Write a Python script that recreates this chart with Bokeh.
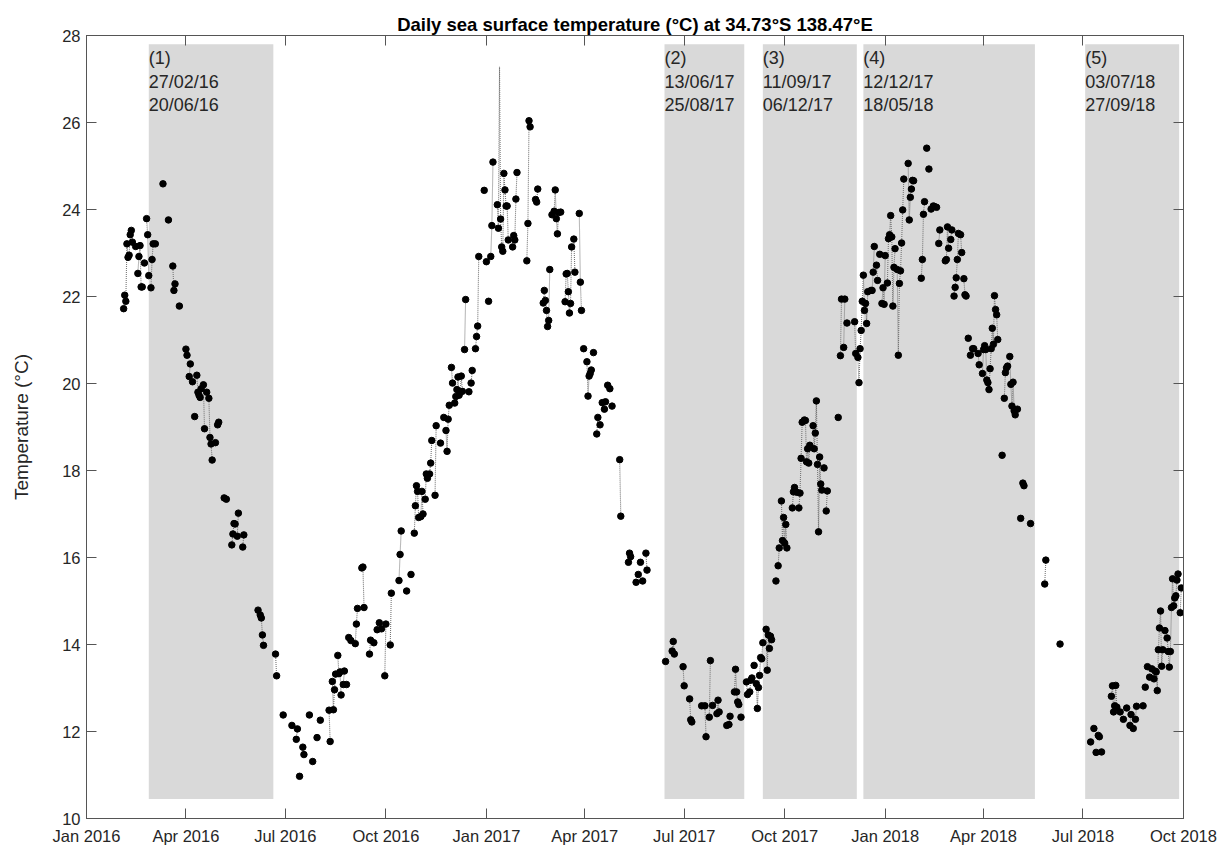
import numpy as np
import pandas as pd
from bokeh.plotting import figure
from bokeh.models import (Range1d, FixedTicker, DatetimeAxis, LinearAxis,
                          DatetimeTickFormatter, CustomJSTickFormatter, ColumnDataSource)
from bokeh.embed import file_html
from bokeh.resources import INLINE
from bokeh.core.properties import value

# ---------------- data ----------------
series_start = "2016-01-01"   # day 0 of the day counts below

days_a = [34,35,36,37,38,39,40,41,42,45,47,48,49,50,51,53,55,56,57,59,60,61,63,70,75,79,80,81,85,
          91,92,94,95,97,99,101,102,103,104,105,107,108,110,112,113,114,115,118,120,121,126,128,
          133,134,135,136,138,139,143,144]
temps_a = [21.72,22.03,21.89,23.21,22.90,22.95,23.42,23.52,23.25,23.15,22.53,22.92,23.17,22.22,22.22,
           22.77,23.79,23.42,22.48,22.20,22.85,23.21,23.21,24.59,23.76,22.70,22.14,22.29,21.78,
           20.79,20.65,20.16,20.45,20.04,19.24,20.19,19.80,19.73,19.68,19.88,19.97,18.96,19.80,19.66,
           18.76,18.61,18.24,18.64,19.05,19.11,17.37,17.34,16.29,16.54,16.78,16.77,16.49,17.02,16.24,16.52]

days_b = [157,159,160,161,162,173,174,180,188,192,193,195,198,199,204,207,211,214,222,223,
          225,226,227,228,230,231,232,233,235,236,238,240,242,246,247,248,252,253,254,259,
          260,263,266,268,270,273,274,278,279,286,287,288,293,297,300,301,302,303,304,306,
          307,308,310,311,312,314,315,316,319,320,324,327,329,330,331,332,334,335,337,338,
          339,340,341,342,343,344,346,347]
temps_b = [14.79,14.68,14.61,14.22,13.98,13.78,13.28,12.38,12.14,11.82,12.06,10.97,11.64,11.47,12.38,
           11.31,11.86,12.26,12.49,11.77,13.15,12.50,12.96,13.32,13.75,13.33,13.37,12.84,13.08,13.39,
           13.08,14.16,14.09,14.02,14.47,14.83,15.76,15.78,14.85,13.78,14.10,14.04,14.34,14.50,14.36,
           13.28,14.47,13.99,15.18,15.47,16.07,16.61,15.23,15.61,16.56,17.19,17.65,17.52,16.92,16.94,
           17.52,17.00,17.34,17.92,17.82,17.92,18.17,18.69,17.43,19.03,18.63,19.22,18.92,18.44,19.18,
           19.50,20.37,20.01,19.55,19.70,19.86,20.15,19.73,19.80,20.17,19.82,20.78,21.93]

days_c = [350,352,353,356,357,358,359,364,366,368,370,371,372,376,377,379,380,381,382,383,
          384,385,386,390,391,392,393,394,403,404,405,406,411,412,413,418,419,420,421,422,
          423,424,426,428,429,430,431,432,434,438,439,440,441,442,443,444,446,447,451,452,
          453,455,458,459,460,461,462,464,467,468,470,472,474,475,477,479,481,488,489,496,
          497,498,503,505,507,509,512,513]
temps_c = [19.81,20.01,20.30,20.80,21.08,21.32,22.92,24.44,22.80,21.89,22.92,23.63,25.09,24.11,23.57,
           23.78,23.14,23.04,24.83,24.45,24.08,24.08,23.30,23.14,23.40,23.30,24.24,24.85,22.82,23.68,
           26.04,25.90,24.23,24.17,24.47,21.85,22.14,21.91,21.68,21.31,21.45,22.62,23.88,23.96,24.45,
           23.79,23.44,23.93,23.94,21.88,22.52,22.53,22.11,21.62,21.84,23.14,23.32,22.56,23.91,22.33,
           21.68,20.80,20.50,19.71,20.17,20.23,20.31,20.71,18.84,19.22,19.05,19.56,19.41,19.58,19.96,
           19.88,19.48,18.25,16.95,15.89,16.10,16.02,15.43,15.61,15.89,15.46,16.10,15.71]

# a single day whose value only shows as the dotted trace (no marker)
spike_days = [378]
spike_temps = [27.28]

days_d = [530,536,537,538,546,547,552,553,554,563,566,567,570,571,573,577,578,579,586,588,
          589,593,594,595,596,597,599,604,605,607,608,609,611,613,614,615,616,617,618,619,
          622,623,624,625,626,627,631,633,634,636,637,638,639,640,641,646,647,648,650,652,
          653,654,655,657,658,659,660,661,662,665,666,667,668,669,670,671,672,673,675,677,
          678,688]
temps_d = [13.61,13.85,14.07,13.78,13.49,13.05,12.75,12.27,12.22,12.59,12.59,11.88,12.33,13.63,12.60,
           12.41,12.72,12.45,12.14,12.16,12.35,12.91,13.43,12.91,12.68,12.62,12.33,13.14,12.85,12.91,
           13.18,13.23,13.52,13.10,12.53,13.01,13.29,13.70,13.67,14.04,14.35,13.41,14.22,13.91,14.19,
           14.11,15.46,15.81,16.22,17.30,16.39,16.92,16.33,16.76,16.22,17.14,17.51,17.61,17.50,17.14,
           17.48,18.28,19.11,19.16,19.15,18.20,18.50,18.17,18.58,19.03,18.50,18.86,19.60,18.14,16.59,
           18.31,17.69,17.55,18.06,17.07,17.53,19.22]

days_e = [690,691,693,694,696,703,704,706,707,708,709,710,711,712,713,714,715,718,719,720,
          721,723,724,726,728,729,730,731,733,734,735,736,737,738,739,740,742,743,744,745,
          746,747,748,752,753,754,755,756,757,764,765,766,767,769,771,773,775,776,778,780,
          781,786,787,788,789,791,792,794,795,796,797,798,800,801,803,804,805,807,809,811,
          812,816,817,820,821,822,823,824,825,826,827,828,829,830,831,832,833,834,838,840,
          841,842,843,845,846,847,848,849,850,852,855,857,858,864,877,878,891]
temps_e = [20.64,21.94,20.83,21.94,21.39,21.42,20.69,20.60,20.02,20.80,21.22,21.89,22.49,21.68,21.84,
           21.38,22.11,22.14,22.14,22.56,23.15,22.72,22.37,22.97,21.84,22.20,21.82,22.94,22.31,23.33,
           23.42,23.86,23.37,21.78,22.67,23.10,22.62,20.65,22.30,22.59,23.23,23.99,24.70,25.06,23.76,
           24.28,24.47,24.67,24.66,22.42,22.85,23.89,24.18,25.41,24.93,24.01,24.08,24.07,24.05,23.22,
           23.53,22.82,22.85,23.60,23.11,23.31,23.53,22.01,22.21,22.43,22.85,23.45,23.42,23.01,22.41,
           22.04,22.01,21.04,20.65,20.80,20.80,20.69,20.43,20.23,20.78,20.87,20.78,20.08,20.02,19.86,
           20.34,20.80,21.27,20.90,22.02,21.70,21.58,21.01,18.35,19.66,20.25,20.36,20.40,20.62,19.98,
           19.48,20.03,19.37,19.28,19.41,16.90,17.71,17.65,16.78,15.39,15.94,14.01]

days_f = [919,922,924,926,927,929,938,939,940,941,942,943,946,949,952,955,956,958,960,961,
          967,969,971,973,975,977,978,979,980,981,982,983,984,985,987,989,990,991,992,993,
          994,995,996,997,998,999,1001,1002]
temps_f = [11.76,12.07,11.52,11.91,11.88,11.53,12.81,13.05,12.45,12.59,13.06,12.56,12.45,12.28,12.54,
           12.14,12.39,12.07,12.28,12.58,12.59,13.02,13.49,13.25,13.44,13.21,13.39,13.37,12.94,13.88,
           14.38,14.77,13.50,13.88,14.32,14.15,13.84,13.48,13.84,14.85,15.51,14.89,15.07,15.12,15.48,
           15.62,14.73,15.30]

period_names = ["(1)", "(2)", "(3)", "(4)", "(5)"]
period_start = ["2016-02-27", "2017-06-13", "2017-09-11", "2017-12-12", "2018-07-03"]
period_end = ["2016-06-20", "2017-08-25", "2017-12-06", "2018-05-18", "2018-09-27"]

x_tick_labels = ["Jan 2016", "Apr 2016", "Jul 2016", "Oct 2016", "Jan 2017", "Apr 2017",
                 "Jul 2017", "Oct 2017", "Jan 2018", "Apr 2018", "Jul 2018", "Oct 2018"]
y_ticks = [10, 12, 14, 16, 18, 20, 22, 24, 26, 28]

title_text = "Daily sea surface temperature (\u00b0C) at 34.73\u00b0S 138.47\u00b0E"
y_label = "Temperature (\u00b0C)"

# ---------------- build ----------------
t0 = pd.Timestamp(series_start)
obs_days = np.array(days_a + days_b + days_c + days_d + days_e + days_f)
obs_temps = np.array(temps_a + temps_b + temps_c + temps_d + temps_e + temps_f, dtype=float)

full_days = np.arange(obs_days.min(), obs_days.max() + 1)
trace = pd.Series(np.nan, index=full_days)
trace.loc[obs_days] = obs_temps
trace.loc[spike_days] = spike_temps

line_src = ColumnDataSource(dict(
    x=(t0 + pd.to_timedelta(full_days, unit="D")).to_numpy(),
    y=trace.to_numpy()))
pt_src = ColumnDataSource(dict(
    x=(t0 + pd.to_timedelta(obs_days, unit="D")).to_numpy(),
    y=obs_temps))

ps = pd.to_datetime(period_start)
pe = pd.to_datetime(period_end)
shade_src = ColumnDataSource(dict(left=ps.to_numpy(), right=pe.to_numpy(),
                                  bottom=[10.45] * len(ps), top=[27.8] * len(ps)))
label_src = ColumnDataSource(dict(
    x=ps.to_numpy(), y=[27.71] * len(ps),
    text=[f"{n}\n{a.strftime('%d/%m/%y')}\n{b.strftime('%d/%m/%y')}"
          for n, a, b in zip(period_names, ps, pe)]))

x_ticks = [pd.to_datetime(s, format="%b %Y").value // 10**6 for s in x_tick_labels]
x_start = pd.to_datetime(x_tick_labels[0], format="%b %Y").to_pydatetime()
x_end = pd.to_datetime(x_tick_labels[-1], format="%b %Y").to_pydatetime()

FONT = "Liberation Sans"
AX = "#555555"
TXT = "#262626"

p = figure(width=1217, height=847, x_axis_type="datetime",
           x_range=Range1d(x_start, x_end), y_range=Range1d(y_ticks[0], y_ticks[-1]),
           output_backend="svg", toolbar_location=None,
           min_border_left=86, min_border_right=34, min_border_top=35, min_border_bottom=26,
           background_fill_color="white", border_fill_color="white")
p.grid.visible = False
p.outline_line_color = AX
p.outline_line_width = 1

p.title.text = title_text
p.title.align = "center"
p.title.text_font = FONT
p.title.text_font_size = "18.5px"
p.title.text_font_style = "bold"
p.title.text_color = "black"
p.title.standoff = 1

xa = p.xaxis[0]
xa.ticker = FixedTicker(ticks=x_ticks)
fmt = "%b %Y"
xa.formatter = DatetimeTickFormatter(milliseconds=fmt, seconds=fmt, minsec=fmt, minutes=fmt,
                                     hourmin=fmt, hours=fmt, days=fmt, months=fmt, years=fmt)
ya = p.yaxis[0]
ya.ticker = FixedTicker(ticks=y_ticks)
ya.axis_label = y_label
ya.axis_label_text_font = FONT
ya.axis_label_text_font_size = "19px"
ya.axis_label_text_font_style = "normal"
ya.axis_label_text_color = TXT
ya.axis_label_standoff = 27

for ax in (xa, ya):
    ax.major_tick_in = 10
    ax.major_tick_out = 0
    ax.minor_tick_line_color = None
    ax.axis_line_color = AX
    ax.major_tick_line_color = AX
    ax.major_label_text_font = FONT
    ax.major_label_text_font_size = "16.5px"
    ax.major_label_text_color = TXT
    ax.major_label_standoff = 6
xa.major_label_standoff = 8

blank = CustomJSTickFormatter(code="return ''")
top_ax = DatetimeAxis(ticker=FixedTicker(ticks=x_ticks), formatter=blank)
right_ax = LinearAxis(ticker=FixedTicker(ticks=y_ticks), formatter=blank)
for ax in (top_ax, right_ax):
    ax.major_tick_in = 10
    ax.major_tick_out = 0
    ax.minor_tick_line_color = None
    ax.axis_line_color = AX
    ax.major_tick_line_color = AX
    ax.major_label_standoff = 0
    ax.major_label_text_font_size = "1px"
p.add_layout(top_ax, "above")
p.add_layout(right_ax, "right")

p.quad(left="left", right="right", bottom="bottom", top="top", source=shade_src,
       fill_color="#d9d9d9", line_color=None)
p.text(x="x", y="y", text="text", source=label_src, text_font=value(FONT),
       text_font_size="18px", text_color=TXT, text_baseline="top", text_align="left",
       text_line_height=1.18, x_offset=0)
p.line(x="x", y="y", source=line_src, line_color="#777777", line_width=1.1, line_dash="1 1")
p.scatter(x="x", y="y", source=pt_src, marker="circle", size=6.5,
          fill_color="black", line_color="black")

open("out.html", "w").write(file_html(p, INLINE))
